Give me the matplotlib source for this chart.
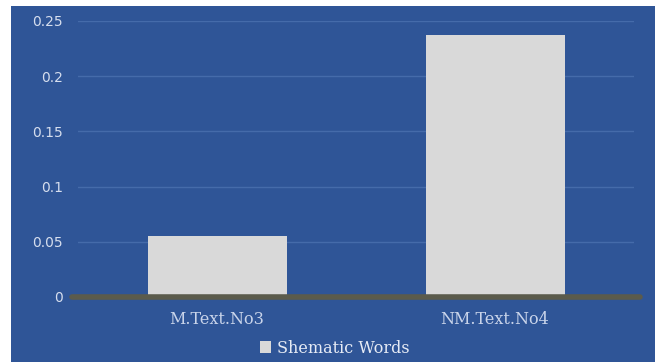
import matplotlib.pyplot as plt
import matplotlib.patheffects as pe
from matplotlib.patches import Rectangle

# Data
categories = ['M.Text.No3', 'NM.Text.No4']
values = [0.055, 0.237]
series_name = 'Shematic Words'
yticks = [0, 0.05, 0.1, 0.15, 0.2, 0.25]
ytick_labels = ['0', '0.05', '0.1', '0.15', '0.2', '0.25']

bg = '#2F5597'
fig = plt.figure(figsize=(6.55, 3.62), dpi=100)
fig.patch.set_facecolor('white')
# blue chart area (with a thin white margin top/left)
fig.patches.append(Rectangle((11 / 655, 0), 1, 1 - 6 / 362, transform=fig.transFigure,
                             facecolor=bg, edgecolor='none', zorder=-10))

ax = fig.add_axes([78 / 655, 65 / 362, (634 - 78) / 655, 276 / 362])
ax.set_facecolor('none')

x = range(len(categories))
shadow = [pe.SimplePatchShadow(offset=(0, -2), shadow_rgbFace='#1a2f55', alpha=0.7), pe.Normal()]
bars = ax.bar(x, values, width=0.5, color='#D9D9D9', zorder=3, label=series_name)
for b in bars:
    b.set_path_effects(shadow)

ax.set_xlim(-0.5, 1.5)
ax.set_ylim(0, 0.25)
ax.set_yticks(yticks)
ax.set_yticklabels(ytick_labels, fontfamily='DejaVu Sans', fontsize=10, color='#D6DEEE')
ax.set_xticks(list(x))
ax.set_xticklabels(categories, fontfamily='DejaVu Serif', fontsize=11.5, color='#C9D4EA')
ax.tick_params(axis='y', length=0, pad=11)
ax.tick_params(axis='x', length=0, pad=10)

ax.grid(axis='y', color='#456BAA', linewidth=1, zorder=1)
for s in ax.spines.values():
    s.set_visible(False)

# thick zero line with shadow
ax.plot([-0.52, 1.52], [0, 0], color='#5B5B4C', linewidth=4, solid_capstyle='round',
        zorder=4, clip_on=False,
        path_effects=[pe.SimplePatchShadow(offset=(0, -2), shadow_rgbFace='#1a2f55', alpha=0.8),
                      pe.Normal()])

leg = ax.legend(loc='center', bbox_to_anchor=(0.462, -0.185), frameon=False,
                handlelength=0.7, handleheight=0.7, handletextpad=0.4,
                prop={'family': 'DejaVu Serif', 'size': 11.5})
for t in leg.get_texts():
    t.set_color('#E6EBF5')
for h in leg.legend_handles:
    h.set_path_effects([])

fig.savefig('out.png', dpi=100, facecolor=fig.get_facecolor())
